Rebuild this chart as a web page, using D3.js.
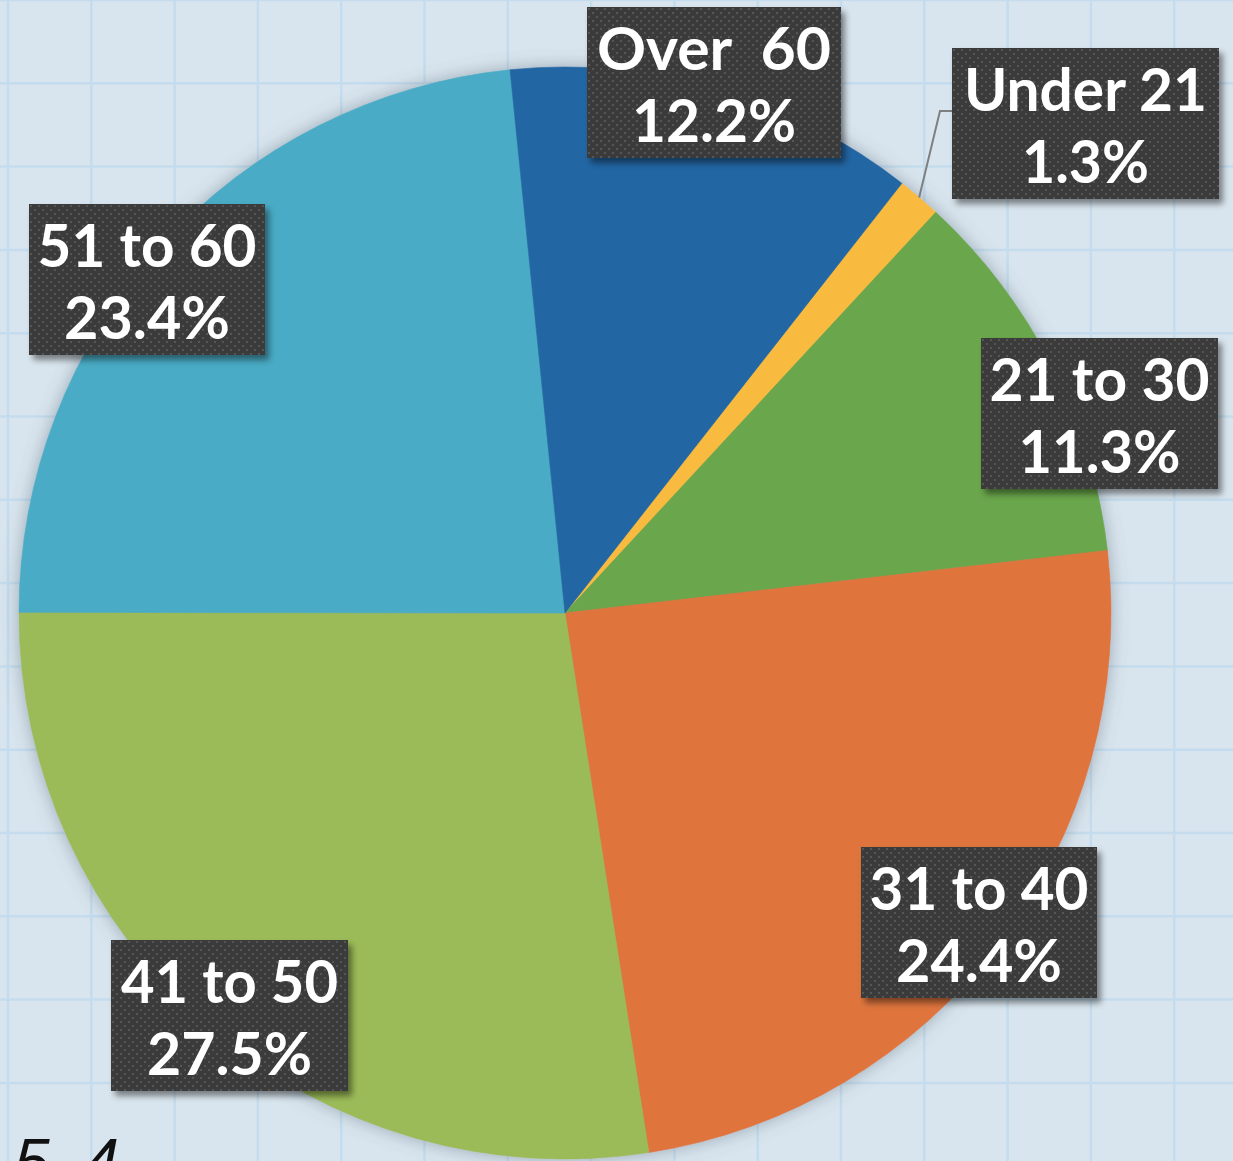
<!DOCTYPE html>
<html>
<head>
<meta charset="utf-8">
<script src="https://cdn.jsdelivr.net/npm/d3@7"></script>
<style>
  html, body { margin: 0; padding: 0; background: #d9e5ee; overflow: hidden; }
  svg { display: block; }
</style>
</head>
<body>
<script>
"use strict";

// age groups, in the order the slices run clockwise
var categories = ["Under 21", "21 to 30", "31 to 40", "41 to 50", "51 to 60", "Over 60"]
var values = [1.3, 11.3, 24.4, 27.5, 23.4, 12.2]
var displayNames = ["Under 21", "21 to 30", "31 to 40", "41 to 50", "51 to 60", "Over  60"]
var colors = ["#f8bb40", "#6aa64b", "#df743e", "#9bbb59", "#4aabc5", "#2166a4"]

// label boxes: left, top, width (placed by hand in the original)
var labelBoxes = [
  { x: 952, y: 48, w: 267 },
  { x: 981, y: 338, w: 237 },
  { x: 861, y: 847, w: 236 },
  { x: 111, y: 940, w: 237 },
  { x: 29, y: 204, w: 236 },
  { x: 587, y: 7, w: 254 }
]
// measured text widths of both label lines
var textWidths = [[243, 127], [220, 162], [219, 166], [217, 165], [219, 166], [234, 164]]

var width = 1233
var height = 1161
var cx = 565
var cy = 613
var radius = 546
var startDeg = 38.1

var svg = d3.select("body").append("svg")
  .attr("width", width)
  .attr("height", height)

var defs = svg.append("defs")

var pieShadow = defs.append("filter").attr("id", "pieShadow")
  .attr("x", "-10%").attr("y", "-10%").attr("width", "120%").attr("height", "120%")
pieShadow.append("feDropShadow")
  .attr("dx", 0).attr("dy", 0).attr("stdDeviation", 9)
  .attr("flood-color", "#4c5f70").attr("flood-opacity", 0.45)

var boxShadow = defs.append("filter").attr("id", "boxShadow")
  .attr("x", "-10%").attr("y", "-10%").attr("width", "130%").attr("height", "130%")
boxShadow.append("feDropShadow")
  .attr("dx", 4).attr("dy", 5).attr("stdDeviation", 3)
  .attr("flood-color", "#000").attr("flood-opacity", 0.45)

// dotted texture of the label boxes
var dots = defs.append("pattern").attr("id", "dots")
  .attr("patternUnits", "userSpaceOnUse").attr("width", 8).attr("height", 8)
dots.append("rect").attr("width", 8).attr("height", 8).attr("fill", "#3b3b3b")
dots.append("rect").attr("x", 1).attr("y", 1).attr("width", 2).attr("height", 2).attr("fill", "#575757")
dots.append("rect").attr("x", 5).attr("y", 5).attr("width", 2).attr("height", 2).attr("fill", "#575757")

// graph paper background
svg.append("rect").attr("width", width).attr("height", height).attr("fill", "#d9e5ee")
var step = 83.3
var grid = svg.append("g").attr("stroke", "#c4dced").attr("stroke-width", 2.5)
grid.selectAll("line.v")
  .data(d3.range(8, width, step))
  .enter().append("line")
    .attr("class", "v")
    .attr("x1", function(d) { return d }).attr("x2", function(d) { return d })
    .attr("y1", 0).attr("y2", height)
grid.selectAll("line.h")
  .data(d3.range(0, height, step))
  .enter().append("line")
    .attr("class", "h")
    .attr("y1", function(d) { return d }).attr("y2", function(d) { return d })
    .attr("x1", 0).attr("x2", width)

// partial caption cut off at the bottom
svg.append("text")
  .attr("x", 14).attr("y", 1184)
  .attr("font-family", "Liberation Sans, sans-serif")
  .attr("font-style", "italic")
  .attr("font-size", 64)
  .attr("letter-spacing", 8)
  .attr("fill", "#111")
  .text("5.4")

var pie = d3.pie()
  .sort(null)
  .value(function(d) { return d })
  .startAngle(startDeg * Math.PI / 180)
  .endAngle(startDeg * Math.PI / 180 + 2 * Math.PI)

var arc = d3.arc().innerRadius(0).outerRadius(radius)
var arcs = pie(values)

var pieG = svg.append("g")
  .attr("transform", "translate(" + cx + "," + cy + ")")
  .attr("filter", "url(#pieShadow)")

pieG.selectAll("path")
  .data(arcs)
  .enter().append("path")
    .attr("d", arc)
    .attr("fill", function(d, i) { return colors[i] })
    .attr("stroke", function(d, i) { return colors[i] })
    .attr("stroke-width", 0.6)

// leader line for the small slice
var small = arcs[0]
var mid = (small.startAngle + small.endAngle) / 2
var ex = cx + radius * Math.sin(mid)
var ey = cy - radius * Math.cos(mid)
var box0 = labelBoxes[0]
svg.append("polyline")
  .attr("points", [[ex, ey], [box0.x - 12, box0.y + 63], [box0.x, box0.y + 63]].join(" "))
  .attr("fill", "none")
  .attr("stroke", "#7f7f7f")
  .attr("stroke-width", 2)

var labels = svg.append("g")
  .selectAll("g")
  .data(arcs)
  .enter()
  .append("g")
    .attr("transform", function(d, i) {
      return "translate(" + labelBoxes[i].x + "," + labelBoxes[i].y + ")"
    })

labels.append("rect")
  .attr("width", function(d, i) { return labelBoxes[i].w })
  .attr("height", 151)
  .attr("fill", "url(#dots)")
  .attr("filter", "url(#boxShadow)")

labels.append("text")
  .attr("x", function(d, i) { return labelBoxes[i].w / 2 })
  .attr("y", 63)
  .attr("textLength", function(d, i) { return textWidths[i][0] })
  .attr("lengthAdjust", "spacingAndGlyphs")
  .style("white-space", "pre")
  .text(function(d, i) { return displayNames[i] })

labels.append("text")
  .attr("x", function(d, i) { return labelBoxes[i].w / 2 })
  .attr("y", 135)
  .attr("textLength", function(d, i) { return textWidths[i][1] })
  .attr("lengthAdjust", "spacingAndGlyphs")
  .text(function(d) { return d.data.toFixed(1) + "%" })

labels.selectAll("text")
  .attr("text-anchor", "middle")
  .attr("font-family", "Lato, sans-serif")
  .attr("font-weight", "bold")
  .attr("font-size", 60)
  .attr("fill", "#ffffff")
</script>
</body>
</html>
